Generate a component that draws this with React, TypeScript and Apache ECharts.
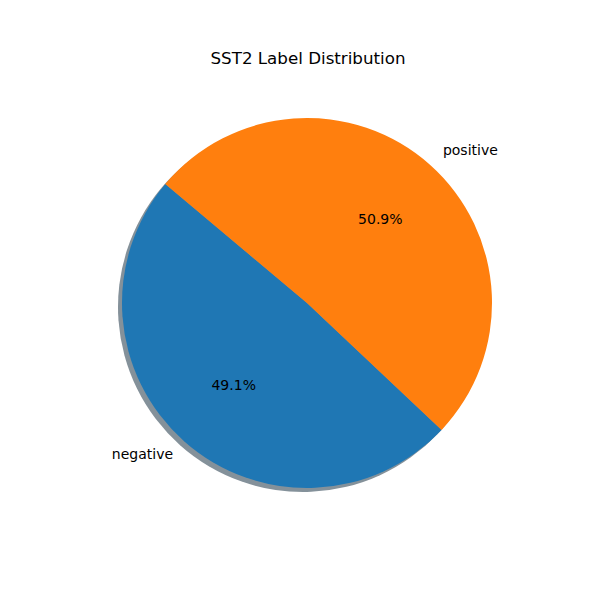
import React, { useEffect, useRef } from "react";
import * as echarts from "echarts";

const TITLE = "SST2 Label Distribution";
const categories = ["negative", "positive"];
const counts = [428, 444];
const colors = ["#1f77b4", "#ff7f0e"];
const shadowColors = ["#84919a", "#a59281"];

export default function App() {
  const ref = useRef<HTMLDivElement>(null);
  useEffect(() => {
    if (!ref.current) return;
    const chart = echarts.init(ref.current, undefined, { renderer: "svg" });
    const cx = 307;
    const cy = 303;
    const R = 185;
    const total = counts.reduce((a, b) => a + b, 0);
    const data = categories.map((c, i) => ({ name: c, value: counts[i] }));
    const font = "DejaVu Sans";
    const labelOffsets = [[3, 3], [-1, -5]];
    const pctOffsets = [[0, 0], [0, -2]];
    chart.setOption({
      animation: false,
      title: {
        text: TITLE,
        left: 303,
        textAlign: "center",
        top: 44,
        textStyle: { fontFamily: font, fontSize: 16.7, fontWeight: "normal", color: "#000" },
      },
      series: [
        {
          type: "pie",
          center: [cx - 4, cy + 4],
          radius: [0, R],
          startAngle: 140,
          clockwise: false,
          silent: true,
          z: 1,
          label: { show: false },
          labelLine: { show: false },
          data: data.map((d, i) => ({ ...d, itemStyle: { color: shadowColors[i] } })),
        },
        {
          type: "pie",
          center: [cx, cy],
          radius: [0, R],
          startAngle: 140,
          clockwise: false,
          avoidLabelOverlap: false,
          z: 2,
          itemStyle: { borderWidth: 0 },
          label: {
            show: true,
            position: "outside",
            formatter: "{b}",
            fontFamily: font,
            fontSize: 14,
            color: "#000",
          },
          labelLine: { show: false, length: R * 0.1 - 5, length2: 0 },
          emphasis: { disabled: true },
          data: data.map((d, i) => ({
            ...d,
            itemStyle: { color: colors[i] },
            label: { offset: labelOffsets[i] },
          })),
        },
        {
          type: "pie",
          center: [cx, cy],
          radius: [0, R * 1.16],
          startAngle: 140,
          clockwise: false,
          silent: true,
          z: 3,
          itemStyle: { color: "rgba(0,0,0,0)" },
          label: {
            show: true,
            position: "inside",
            formatter: (p: any) => ((p.value / total) * 100).toFixed(1) + "%",
            fontFamily: font,
            fontSize: 14,
            color: "#000",
          },
          labelLine: { show: false },
          data: data.map((d, i) => ({ ...d, label: { offset: pctOffsets[i] } })),
        },
      ],
    });
    return () => chart.dispose();
  }, []);
  return (
    <div
      ref={ref}
      style={{ position: "fixed", left: 0, top: 0, width: 600, height: 600, background: "#fff" }}
    />
  );
}
